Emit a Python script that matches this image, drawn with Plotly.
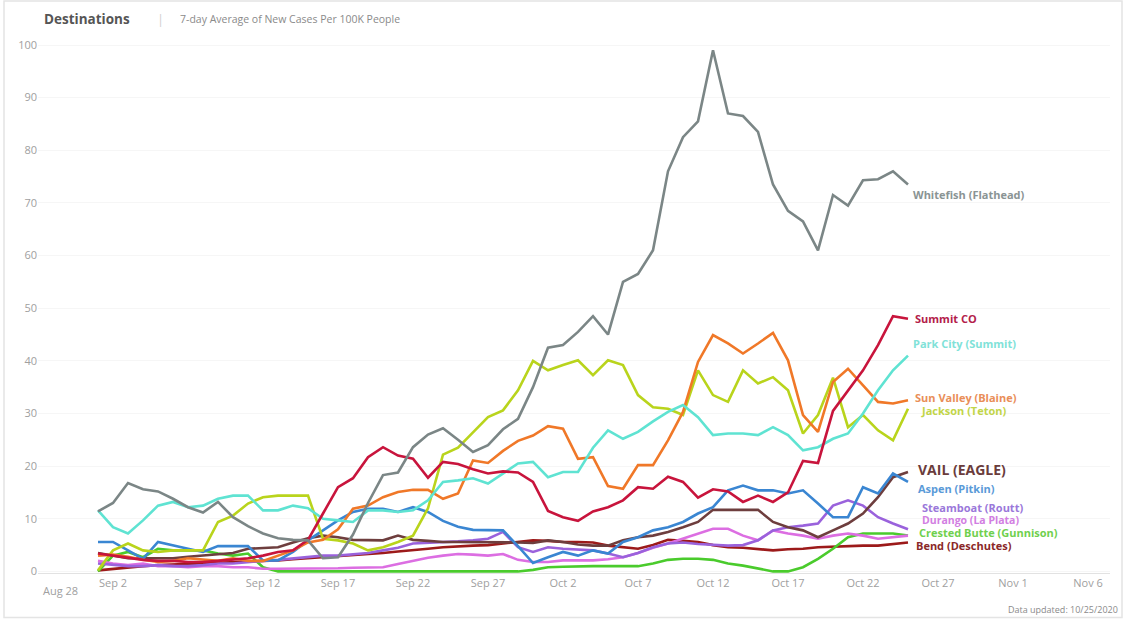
import pandas as pd
import plotly.graph_objects as go

dates = pd.date_range("2020-09-01", periods=55, freq="D")

whitefish = [11.4, 13, 16.8, 15.6, 15.2, 13.8, 12.2, 11.2, 13.2, 10.3, 8.6, 7.2, 6.3, 6.0, 5.9, 2.5, 2.7, 7, 13, 18.3,
             18.8, 23.6, 26, 27.2, 25, 22.7, 24, 27, 29, 35, 42.5, 43, 45.5, 48.5, 45, 55, 56.5, 61, 76, 82.5,
             85.5, 99, 87, 86.5, 83.5, 73.5, 68.5, 66.5, 61, 71.5, 69.5, 74.3, 74.5, 76, 73.5]
summit = [3.4, 3.0, 2.6, 2.2, 2.0, 2.0, 1.8, 1.8, 2.0, 2.2, 2.5, 3.0, 3.7, 4.0, 6.0, 11, 16, 17.7, 21.7, 23.6,
          22, 21.4, 17.8, 20.8, 20.4, 19.4, 18.6, 19, 18.8, 17, 11.5, 10.3, 9.6, 11.4, 12.2, 13.5, 16, 15.7, 18, 17,
          14, 15.6, 15.2, 13.2, 14.4, 13.2, 15, 21, 20.6, 30.5, 34.3, 38.2, 43, 48.5, 48]
park_city = [11.6, 8.4, 7.2, 9.7, 12.5, 13.2, 12.2, 12.5, 13.8, 14.4, 14.4, 11.6, 11.6, 12.5, 12, 10, 9.7, 9.4, 11.6, 11.6,
             11.3, 11.6, 13.5, 17, 17.3, 17.7, 16.7, 18.6, 20.5, 20.8, 17.9, 18.9, 18.9, 23.5, 26.8, 25.2, 26.5, 28.5, 30.3, 31.6,
             29.3, 25.9, 26.2, 26.2, 25.9, 27.4, 25.9, 23, 23.6, 25.2, 26.2, 30, 34.4, 38.2, 41]
sun_valley = [3.0, 3.2, 2.8, 2.2, 1.8, 2.0, 2.5, 2.2, 2.0, 2.5, 2.0, 2.0, 3.0, 4.0, 5.5, 6.0, 8.0, 11.9, 12.5, 14.1,
              15.1, 15.5, 15.5, 13.8, 14.8, 21.1, 20.6, 22.9, 24.8, 25.8, 27.6, 27.1, 21.4, 21.7, 16.2, 15.7, 20.2, 20.2, 24.9, 30.3,
              39.8, 44.9, 43.3, 41.4, 43.3, 45.3, 40.1, 29.7, 26.5, 36, 38.5, 35.4, 32.2, 31.9, 32.5]
jackson = [0.2, 4, 5.3, 4, 3.7, 4, 4, 4, 9.4, 10.6, 12.9, 14.1, 14.4, 14.4, 14.4, 6.2, 5.9, 5.3, 4, 4.6,
           5.6, 6.8, 12, 22.2, 23.5, 26.4, 29.3, 30.6, 34.4, 40, 38.2, 39.2, 40.1, 37.3, 40.1, 39.2, 33.5, 31.2, 30.9, 29.7,
           38.2, 33.5, 32.2, 38.2, 35.7, 36.9, 34.4, 26.2, 29.7, 36.8, 27.4, 29.7, 26.8, 24.9, 30.9]
vail = [3.5, 3.0, 2.5, 2.5, 2.5, 2.5, 2.8, 3.0, 3.2, 3.5, 4.3, 4.5, 4.6, 5.5, 6.3, 6.8, 6.5, 6.0, 5.9, 5.9,
        6.8, 6.0, 5.8, 5.6, 5.6, 5.6, 5.6, 5.6, 5.5, 5.4, 5.9, 5.6, 5.1, 4.9, 4.9, 5.9, 6.5, 6.8, 7.5, 8.4,
        9.4, 11.7, 11.7, 11.7, 11.7, 9.4, 8.4, 7.8, 6.5, 7.8, 9.1, 11, 14.1, 17.9, 18.9]
aspen = [5.6, 5.6, 4, 2.4, 5.6, 4.9, 4.3, 3.7, 4.8, 4.8, 4.8, 2.1, 2.1, 3.7, 5.9, 7.8, 9.7, 11.3, 11.9, 11.9,
         11.3, 12.2, 11.3, 9.6, 8.5, 7.9, 7.8, 7.8, 4.8, 1.6, 2.7, 3.7, 3, 4, 3.4, 5.6, 6.5, 7.8, 8.4, 9.4,
         11, 12.2, 15.4, 16.3, 15.4, 15.4, 14.8, 15.4, 12.9, 10.3, 10.3, 16, 14.8, 18.6, 17]
steamboat = [1.5, 1.2, 1.0, 1.0, 1.2, 1.0, 1.0, 1.2, 1.5, 1.5, 1.8, 2.0, 2.2, 2.5, 2.8, 3.0, 3.0, 3.2, 3.5, 4.0,
             4.5, 5.3, 5.4, 5.6, 5.7, 5.9, 6.2, 7.5, 4.6, 3.7, 4.6, 4.3, 4.2, 4.0, 3.4, 2.7, 3.5, 4.6, 5.3, 5.5,
             5.2, 5.0, 4.9, 5.0, 5.9, 7.8, 8.4, 8.7, 9.1, 12.5, 13.5, 12.5, 10.3, 9.1, 8.0]
durango = [2.0, 1.5, 1.2, 1.5, 1.0, 1.0, 0.8, 1.0, 1.0, 0.8, 0.8, 0.5, 0.5, 0.5, 0.5, 0.5, 0.6, 0.7, 0.8, 0.8,
           1.4, 2.0, 2.6, 3.0, 3.3, 3.2, 3.0, 3.3, 2.2, 1.8, 1.8, 2.1, 2.1, 2.1, 2.3, 2.7, 3.5, 4.5, 5.3, 6.2,
           7.2, 8.1, 8.1, 6.8, 5.9, 7.8, 7.2, 6.8, 6.2, 6.8, 7.2, 6.8, 6.2, 6.5, 6.8]
crested_butte = [0, 3, 3.7, 2.7, 4.3, 4, 4, 4, 3.4, 3, 3.4, 0.8, 0, 0, 0, 0, 0, 0, 0, 0,
                 0, 0, 0, 0, 0, 0, 0, 0, 0, 0.3, 0.8, 0.9, 1.0, 1.0, 1.0, 1.0, 1.0, 1.5, 2.2, 2.4,
                 2.4, 2.2, 1.5, 1.1, 0.5, 0, 0, 0.8, 2.4, 4.3, 6.5, 7.2, 7.2, 7.2, 6.8]
bend = [0.2, 0.5, 0.8, 1.0, 1.2, 1.3, 1.4, 1.5, 1.6, 1.8, 1.9, 2.0, 2.1, 2.3, 2.5, 2.7, 2.8, 3.0, 3.2, 3.5,
        3.8, 4.0, 4.3, 4.6, 4.8, 4.9, 5.0, 5.3, 5.6, 5.9, 5.8, 5.6, 5.6, 5.5, 4.9, 4.6, 4.3, 5.0, 6.0, 5.8,
        5.6, 5.0, 4.6, 4.5, 4.2, 4.0, 4.2, 4.3, 4.6, 4.7, 4.9, 4.9, 4.9, 5.2, 5.5]

names = ["Whitefish (Flathead)", "Summit CO", "Park City (Summit)", "Sun Valley (Blaine)", "Jackson (Teton)",
         "VAIL (EAGLE)", "Aspen (Pitkin)", "Steamboat (Routt)", "Durango (La Plata)", "Crested Butte (Gunnison)",
         "Bend (Deschutes)"]
series = [whitefish, summit, park_city, sun_valley, jackson, vail, aspen, steamboat, durango, crested_butte, bend]
line_colors = ["#7b8686", "#c8143c", "#5fe3d2", "#f07828", "#b9d41c", "#6e3e3e", "#3a86d2", "#9a62dc",
               "#dc6ee2", "#4acb2c", "#9c1a1a"]
label_colors = ["#8a9494", "#b3204a", "#80e2d8", "#e98e58", "#c2d548", "#6a3c3c", "#5a9ad8", "#9a78da",
                "#d27ee2", "#6fd04e", "#8a2828"]
label_y = [71.6, 48.1, 43.3, 33.0, 30.5, 19.3, 15.8, 12.1, 9.8, 7.3, 5.0]
label_xshift = [3, 5, 3, 5, 11, 8, 8, 12, 12, 9, 6]
label_size = [11, 11, 11, 11, 11, 14, 11, 11, 10.5, 11, 11]

# plotting order: bottom lines first so big ones sit on top
draw_order = [10, 9, 8, 7, 5, 6, 4, 3, 2, 1, 0]

tick_dates = pd.date_range("2020-09-02", "2020-11-06", freq="5D")
tick_text = [d.strftime("%b ") + str(d.day) for d in tick_dates]

fig = go.Figure()
for i in draw_order:
    fig.add_trace(go.Scatter(x=dates, y=series[i], mode="lines", name=names[i],
                             line=dict(color=line_colors[i], width=2.6), showlegend=False,
                             hoverinfo="skip"))

font_fam = "Open Sans, Noto Sans, sans-serif"
for i, nm in enumerate(names):
    fig.add_annotation(x=dates[-1], y=label_y[i], text=nm, showarrow=False, xanchor="left",
                       yanchor="middle", xshift=label_xshift[i],
                       font=dict(family=font_fam, size=label_size[i], color=label_colors[i], weight=700))

x0 = pd.Timestamp("2020-08-28")
x1 = x0 + pd.Timedelta(days=1072 / 15)

fig.update_layout(
    width=1127, height=619,
    margin=dict(l=38, r=17, t=35, b=46, autoexpand=False),
    plot_bgcolor="white", paper_bgcolor="white",
    font=dict(family=font_fam, color="#9a9a9a", size=11),
    xaxis=dict(range=[x0, x1], tickvals=list(tick_dates), ticktext=tick_text, showgrid=False,
               showline=True, linecolor="#e2e2e2", linewidth=1, ticks="", zeroline=False,
               tickfont=dict(size=11, color="#a0a0a0"), automargin=False),
    yaxis=dict(range=[-0.3, 101.9], tickvals=list(range(0, 101, 10)), showgrid=True,
               gridcolor="#f6f6f6", zeroline=False, ticks="", showline=False,
               tickfont=dict(size=11, color="#a0a0a0"), automargin=False),
)

# Aug 28 label (shifted inward as in the original)
fig.add_annotation(x=x0 + pd.Timedelta(days=22 / 15), y=0, yref="paper", yanchor="top", yshift=-8,
                   text="Aug 28", showarrow=False, font=dict(size=11, color="#a0a0a0"))

# Title
fig.add_annotation(x=(42 - 38) / 1072, y=(572.6 - 19) / 537.6, xref="paper", yref="paper",
                   xanchor="left", yanchor="middle", text="Destinations", showarrow=False,
                   font=dict(family=font_fam, size=13.5, color="#555555", weight=700))
fig.add_annotation(x=(155 - 38) / 1072, y=(572.6 - 19) / 537.6, xref="paper", yref="paper",
                   xanchor="left", yanchor="middle", text="|", showarrow=False,
                   font=dict(family=font_fam, size=13, color="#d0d0d0"))
fig.add_annotation(x=(178 - 38) / 1072, y=(572.6 - 19) / 537.6, xref="paper", yref="paper",
                   xanchor="left", yanchor="middle", text="7-day Average of New Cases Per 100K People",
                   showarrow=False, font=dict(family=font_fam, size=10.5, color="#8a8a8a"))
fig.add_annotation(x=(1120 - 38) / 1072, y=(572.6 - 609) / 537.6, xref="paper", yref="paper",
                   xanchor="right", yanchor="middle", text="Data updated: 10/25/2020",
                   showarrow=False, font=dict(family=font_fam, size=9, color="#8a8a8a"))

# Light frame around the dashboard
fig.add_shape(type="rect", xref="paper", yref="paper",
              x0=(4 - 38) / 1072, x1=(1122 - 38) / 1072,
              y0=(572.6 - 617) / 537.6, y1=(572.6 - 1) / 537.6,
              line=dict(color="#e4e4e4", width=1.5), fillcolor="rgba(0,0,0,0)", layer="below")

fig.write_html("out.html", config={"displayModeBar": False},
               post_script="document.body.style.margin='0';document.body.style.padding='0';"
                           "document.body.style.overflow='hidden';")
